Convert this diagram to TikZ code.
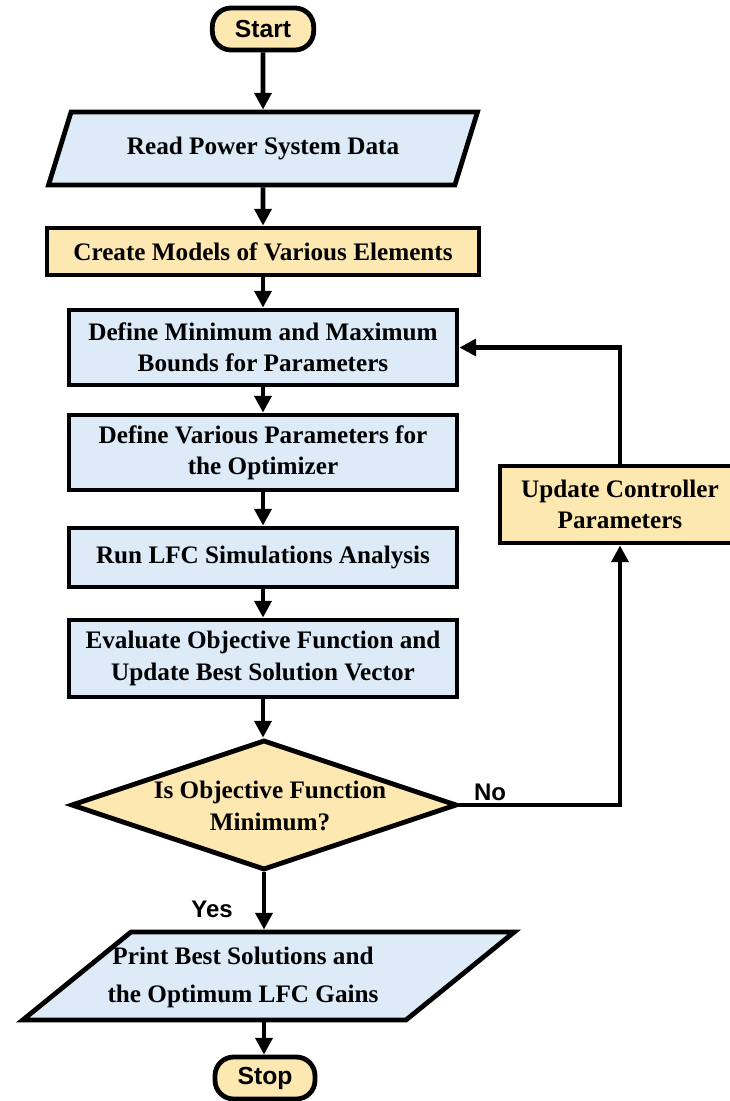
\documentclass[tikz,border=0pt]{standalone}
\usepackage{fontspec}
\setmainfont{Liberation Serif}
\setsansfont{Liberation Sans}
\usetikzlibrary{shapes.geometric,arrows.meta}
\definecolor{termY}{HTML}{FDE8B2}
\definecolor{boxB}{HTML}{DDEBF9}
\begin{document}
\begin{tikzpicture}[x=0.75pt,y=-0.75pt,
  every node/.style={font=\bfseries\fontsize{18.9}{23.5}\selectfont, inner sep=0pt, align=center},
  arr/.style={line width=3.6pt, -{Triangle[length=12.5pt,width=12.5pt]}},
  ybox/.style={draw, line width=3.6pt, fill=termY, rectangle},
  bbox/.style={draw, line width=3.6pt, fill=boxB, rectangle},
  term/.style={draw, line width=3.6pt, fill=termY, rectangle, rounded corners=14pt,
    minimum width=76pt, minimum height=31.5pt, font=\sffamily\bfseries\fontsize{18.5}{22}\selectfont},
  iobox/.style={draw, line width=3.6pt, fill=boxB, trapezium, trapezium stretches=true, inner sep=2pt},
  decision/.style={draw, line width=3.6pt, fill=termY, diamond, aspect=2.97, inner sep=1pt},
  lbl/.style={font=\sffamily\bfseries\fontsize{18}{22}\selectfont}
]
\useasboundingbox (0,0) rectangle (730,1101);

\node[term] (start) at (263,29) {Start};
\node[iobox, trapezium left angle=60, trapezium right angle=120,
      minimum width=322.5pt, minimum height=54.75pt] (read) at (263,148.5) {Read Power System Data};
\node[ybox, minimum width=324pt, minimum height=35.25pt] (create) at (263,251.5) {Create Models of Various Elements};
\node[bbox, minimum width=291pt, minimum height=56.25pt] (minmax) at (263,347.5) {Define Minimum and Maximum\\Bounds for Parameters};
\node[bbox, minimum width=291pt, minimum height=56.25pt] (various) at (263,452.5) {Define Various Parameters for\\the Optimizer};
\node[bbox, minimum width=291pt, minimum height=44.25pt] (run) at (263,557.5) {Run LFC Simulations Analysis};
\node[bbox, minimum width=291pt, minimum height=57.75pt] (eval) at (263,658.5) {Evaluate Objective Function and\\Update Best Solution Vector};
\node[decision, minimum width=289.5pt, minimum height=97.5pt] (dec) at (264,805) {\phantom{X}};
\node[font=\bfseries\fontsize{18.9}{24}\selectfont] (dectext) at (270,806) {Is Objective Function\\Minimum?};
\node[ybox, minimum width=180pt, minimum height=57.75pt] (update) at (620,504.5) {Update Controller\\Parameters};
\node[iobox, trapezium left angle=67, trapezium right angle=113,
      minimum width=369.75pt, minimum height=66pt] (print) at (268.5,976) {\phantom{X}};
\node[font=\bfseries\fontsize{18.9}{28.5}\selectfont] (printtext) at (243,977) {Print Best Solutions and\\the Optimum LFC Gains};
\node[term, minimum width=75pt] (stop) at (265,1078) {Stop};

\node[lbl] (no) at (490,792) {No};
\node[lbl] (yes) at (212,909) {Yes};

\draw[arr] (start) -- (read);
\draw[arr] (read) -- (create);
\draw[arr] (create) -- (minmax);
\draw[arr] (minmax) -- (various);
\draw[arr] (various) -- (run);
\draw[arr] (run) -- (eval);
\draw[arr] (eval.south) -- (eval.south |- dec.north);
\draw[arr] (dec.south) -- (dec.south |- print.north);
\draw[arr] (dec.south |- print.south) -- (dec.south |- stop.north);
\draw[arr] (dec.east) -| (update.south);
\draw[arr] (update.north) |- (minmax.east);
\end{tikzpicture}
\end{document}
